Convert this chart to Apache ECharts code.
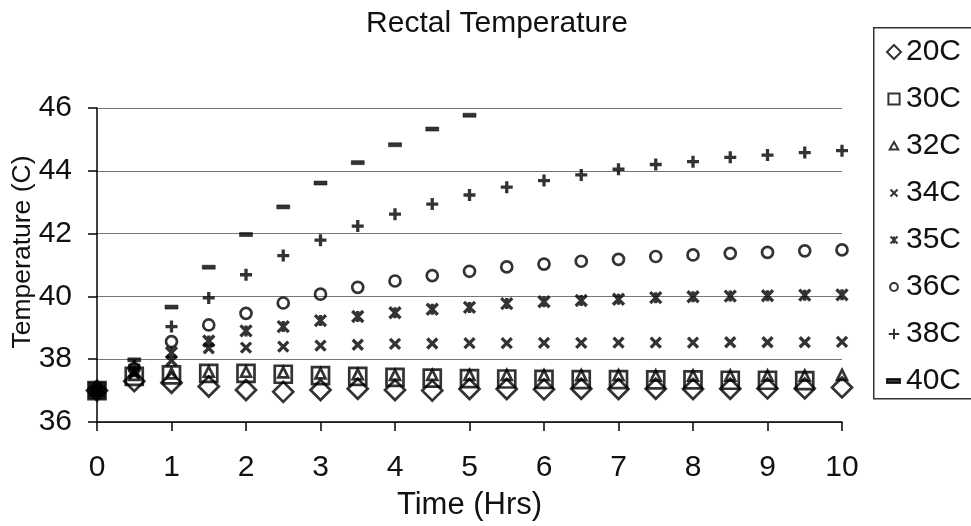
<!DOCTYPE html>
<html><head><meta charset="utf-8">
<script src="https://cdn.jsdelivr.net/npm/echarts@6/dist/echarts.min.js"></script>
<style>html,body{margin:0;padding:0;background:#fff}#c{width:971px;height:526px}</style>
</head><body><div id="c"></div>
<script>
const times = [0,0.5,1,1.5,2,2.5,3,3.5,4,4.5,5,5.5,6,6.5,7,7.5,8,8.5,9,9.5,10];
const s20 = [37.0,37.3,37.25,37.13,37.02,36.96,37.02,37.06,37.02,37.0,37.05,37.05,37.04,37.06,37.05,37.06,37.05,37.06,37.07,37.07,37.1];
const s30 = [37.0,37.45,37.5,37.55,37.55,37.52,37.48,37.45,37.42,37.4,37.38,37.37,37.36,37.35,37.35,37.34,37.34,37.33,37.33,37.32,null];
const s32 = [37.0,37.5,37.55,37.6,37.6,37.58,37.55,37.52,37.5,37.5,37.5,37.5,37.49,37.49,37.49,37.48,37.48,37.48,37.48,37.48,37.5];
const s34 = [37.0,37.55,37.95,38.35,38.37,38.4,38.43,38.46,38.49,38.5,38.51,38.51,38.52,38.52,38.53,38.53,38.53,38.54,38.54,38.54,38.55];
const s35 = [37.0,37.6,38.21,38.58,38.9,39.04,39.23,39.36,39.48,39.59,39.65,39.77,39.83,39.87,39.91,39.96,39.99,40.01,40.02,40.04,40.05];
const s36 = [37.0,37.7,38.56,39.09,39.46,39.79,40.07,40.29,40.49,40.66,40.8,40.94,41.03,41.12,41.18,41.27,41.32,41.37,41.4,41.45,41.48];
const s38 = [37.0,37.8,39.04,39.95,40.69,41.3,41.79,42.24,42.62,42.94,43.23,43.48,43.69,43.87,44.05,44.2,44.29,44.43,44.5,44.58,44.64];
const s40 = [37.0,37.98,39.66,40.93,41.97,42.85,43.61,44.26,44.83,45.33,45.77];
const seriesNames = ['20C','30C','32C','34C','35C','36C','38C','40C'];
const xTicks = [0,1,2,3,4,5,6,7,8,9,10];
const yTicks = [36,38,40,42,44,46];

const FONT = 'Liberation Sans, Arial, sans-serif';
const hollow = {color:'rgba(0,0,0,0)', borderColor:'#000', borderWidth:2.7};
const stroked = {color:'#000', borderColor:'#000', borderWidth:3.3};
const P_X = 'path://M0,0L10,10M10,0L0,10';
const P_PLUS = 'path://M5,0L5,10M0,5L10,5';
const P_STAR = 'path://M0,0L10,10M10,0L0,10M5,0L5,10';
// legend icons: padded with extra move points so that the glyph sits smaller inside the icon box
const L_DIAMOND = 'path://M7,0L14,7L7,14L0,7Z';
const L_RECT = 'path://M-0.5,-0.5M14.5,14.5M1,1L13,1L13,13L1,13Z';
const L_TRI = 'path://M-2,-2M16,16M7,2L12.5,11.5L1.5,11.5Z';
const L_X = 'path://M-2,-2M16,16M2.5,2.5L11.5,11.5M11.5,2.5L2.5,11.5';
const L_STAR = 'path://M-2,-2M16,16M2.5,2.5L11.5,11.5M11.5,2.5L2.5,11.5M7,2.5L7,11.5';
const L_CIRC = 'path://M-2,-2M16,16M12,7A5,5,0,1,1,2,7A5,5,0,1,1,12,7Z';
const L_PLUS = 'path://M-1,-1M15,15M7,1L7,13M1,7L13,7';
const L_DASH = 'path://M0,0M14,14M0,5L13,5L13,9L0,9Z';
const legendIcons = [L_DIAMOND, L_RECT, L_TRI, L_X, L_STAR, L_CIRC, L_PLUS, L_DASH];

function pts(arr){ return arr.map((v,i)=> v==null ? null : [times[i], v]); }

const specs = [
  {data:s20, symbol:'diamond', size:20, style:hollow},
  {data:s30, symbol:'rect', size:17, style:hollow},
  {data:s32, symbol:'triangle', size:10, style:hollow},
  {data:s34, symbol:P_X, size:10, style:stroked},
  {data:s35, symbol:P_STAR, size:11, style:stroked},
  {data:s36, symbol:'circle', size:11, style:hollow},
  {data:s38, symbol:P_PLUS, size:12, style:stroked},
  {data:s40, symbol:'rect', size:[13,4], style:{color:'#000', borderColor:'#000', borderWidth:0.5}}
];

const series = specs.map((s,k)=>{
  const d = pts(s.data);
  if (k===1) { d[0] = {value:d[0], itemStyle:{color:'#000'}, symbolSize:17}; }
  return {
    name: seriesNames[k], type:'scatter', data:d,
    symbol:s.symbol, symbolSize:s.size, symbolKeepAspect:true,
    itemStyle:s.style, z: k===1 ? 3 : 2,
    emphasis:{disabled:true}
  };
});

const chart = echarts.init(document.getElementById('c'), null, {renderer:'canvas'});
chart.setOption({
  animation:false,
  backgroundColor:'#fff',
  title:{text:'Rectal Temperature', left:492, top:4, textAlign:'center',
    textStyle:{fontFamily:FONT, fontSize:30, fontWeight:'normal', color:'#111'}},
  grid:{left:97, right:129, top:108, bottom:104, containLabel:false, outerBoundsMode:'none'},
  legend:{
    orient:'vertical', left:873, top:29,
    data: seriesNames.map((n,i)=>({name:n, icon:legendIcons[i]})),
    itemWidth:14, itemHeight:14, itemGap:17, itemTextGap:10,
    borderWidth:0, padding:[8,5,8,13],
    textStyle:{fontFamily:FONT, fontSize:30, color:'#111', lineHeight:30},
    symbolKeepAspect:true
  },
  graphic:[{
    type:'rect', left:873, top:27, z:-1, silent:true,
    shape:{width:140, height:371},
    style:{fill:'#fff', stroke:'#333', lineWidth:1.5}
  }],
  xAxis:{
    type:'value', min:0, max:10, interval:1,
    name:'Time (Hrs)', nameLocation:'middle', nameGap:68, nameMoveOverlap:false,
    nameTextStyle:{fontFamily:FONT, fontSize:31, color:'#111'},
    axisLine:{show:true, lineStyle:{color:'#000', width:1.5}},
    axisTick:{show:true, inside:false, length:9, lineStyle:{color:'#000', width:1.5}},
    axisLabel:{fontFamily:FONT, fontSize:30, color:'#111', margin:31,
      customValues: xTicks},
    splitLine:{show:false}
  },
  yAxis:{
    type:'value', min:36, max:46, interval:2,
    name:'Temperature (C)', nameLocation:'middle', nameGap:61, nameRotate:90, nameMoveOverlap:false,
    nameTextStyle:{fontFamily:FONT, fontSize:26.5, color:'#111', padding:[0,0,0,26]},
    axisLine:{show:true, lineStyle:{color:'#000', width:1.5}},
    axisTick:{show:true, inside:false, length:9, lineStyle:{color:'#000', width:1.5}},
    axisLabel:{fontFamily:FONT, fontSize:30, color:'#111', margin:25},
    splitLine:{show:true, lineStyle:{color:'#777', width:1.2}}
  },
  series: series
});
</script></body></html>
